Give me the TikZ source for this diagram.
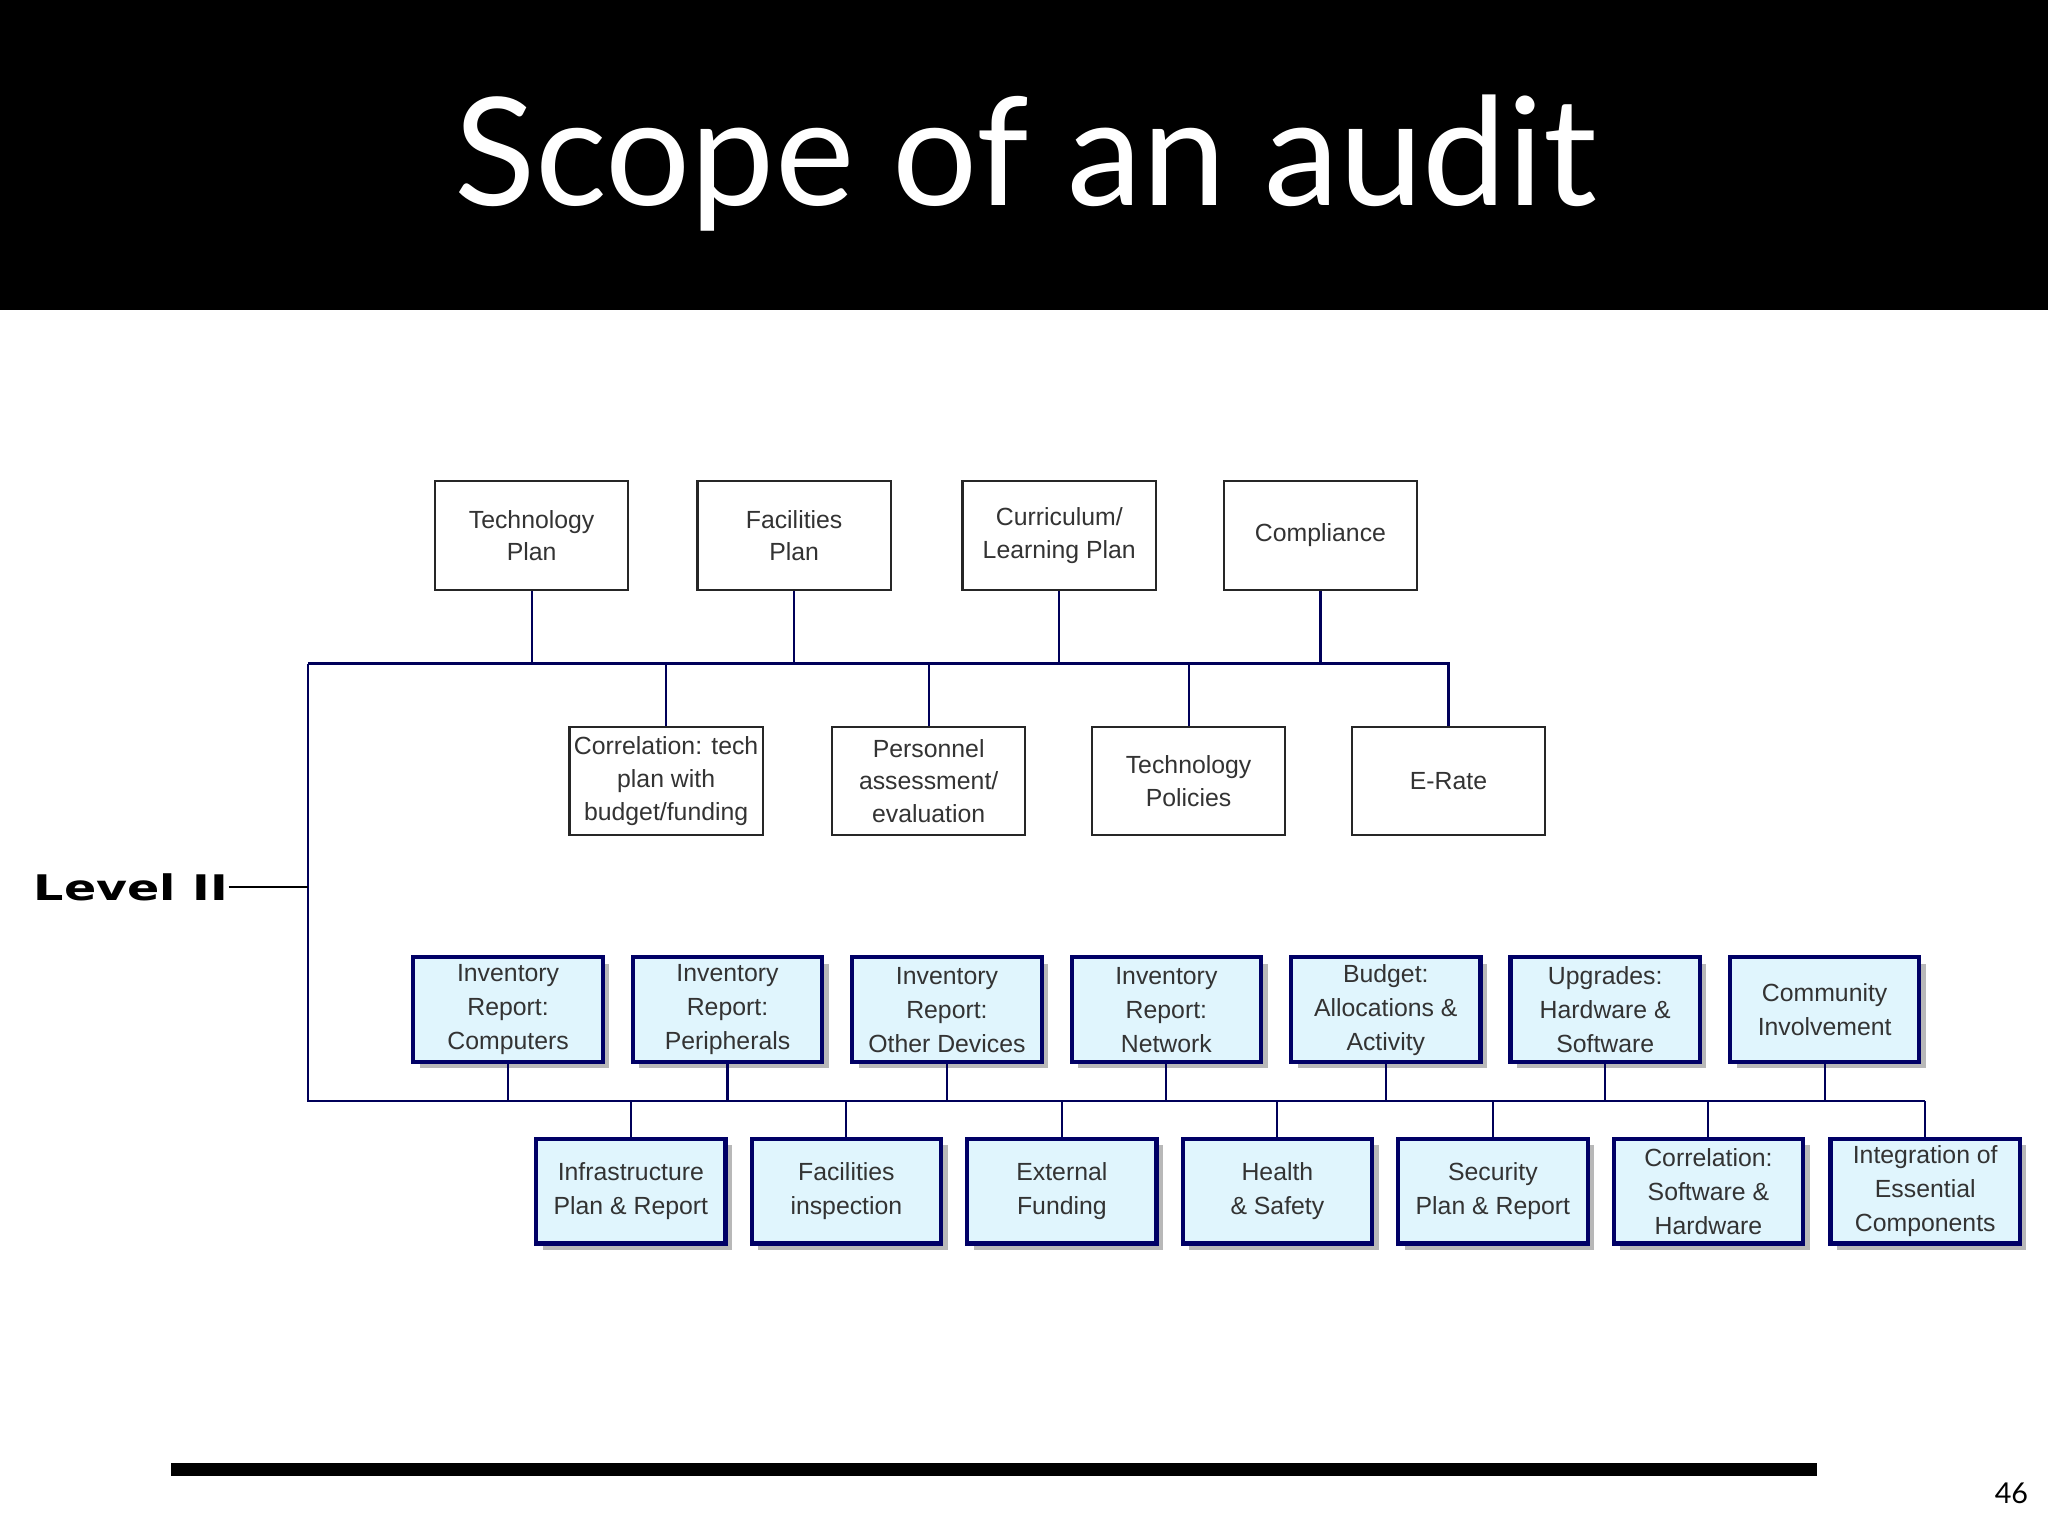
\documentclass[tikz,border=0pt]{standalone}
\usepackage{fontspec}
\setmainfont{Liberation Sans}
\newfontfamily\titlefont{Lato}
\newfontfamily\levfont{DejaVu Sans}
\begin{document}
\begin{tikzpicture}[x=1pt,y=-1pt,
  plain/.style={draw=black!85,line width=1.8pt,fill=white,minimum width=148pt,minimum height=83pt,align=center,font=\fontsize{19}{25}\selectfont,text=black!80},
  blue/.style={draw=blue!40!black,line width=3.2pt,fill=cyan!12,minimum width=145pt,minimum height=80pt,align=center,font=\fontsize{19}{26}\selectfont,text=black!80,
     drop shadow={shadow xshift=5pt,shadow yshift=-5pt,fill=black!35,opacity=.8}},
  conn/.style={draw=blue!35!black,line width=1.6pt}]
\usetikzlibrary{shadows}
\useasboundingbox (0,0) rectangle (1568,1176);
\fill[black] (0,0) rectangle (1568,237);
\node[text=white,font=\titlefont\fontsize{115}{125}\selectfont] (title) at (785,125) {Scope of an audit};
% top row
\node[plain] (t1) at (407,410) {Technology\\Plan};
\node[plain] (t2) at (608,410) {Facilities\\Plan};
\node[plain] (t3) at (811,410) {Curriculum/\\Learning Plan};
\node[plain] (t4) at (1011,410) {Compliance};
\node[plain] (s1) at (510,598) {Correlation: tech\\plan with\\budget/funding};
\node[plain] (s2) at (711,598) {Personnel\\assessment/\\evaluation};
\node[plain] (s3) at (910,598) {Technology\\Policies};
\node[plain] (s4) at (1109,598) {E-Rate};
\coordinate (busL) at (236,508);
\coordinate (busR) at (1110,508);
\coordinate (bus2L) at (236,843);
\coordinate (bus2R) at (1474,843);
\draw[conn] (busL) -- (busR);
\draw[conn] (busL) -- (bus2L) -- (bus2R);
\foreach \n in {t1,t2,t3,t4} \draw[conn] (\n.south) -- (\n.south |- busL);
\foreach \n in {s1,s2,s3,s4} \draw[conn] (\n.north) -- (\n.north |- busL);
\node[font=\levfont\bfseries\fontsize{27}{30}\selectfont,anchor=east,inner sep=0pt,xscale=1.35] (lev) at (175,679) {Level II};
\coordinate (levend) at (175,679);
\draw[line width=1.4pt] (levend) -- (levend -| busL);
% blue rows
\node[blue] (b1) at (389,773) {Inventory\\Report:\\Computers};
\node[blue] (b2) at (557,773) {Inventory\\Report:\\Peripherals};
\node[blue] (b3) at (725,773) {Inventory\\Report:\\Other Devices};
\node[blue] (b4) at (893,773) {Inventory\\Report:\\Network};
\node[blue] (b5) at (1061,773) {Budget:\\Allocations \&\\Activity};
\node[blue] (b6) at (1229,773) {Upgrades:\\Hardware \&\\Software};
\node[blue] (b7) at (1397,773) {Community\\Involvement};
\node[blue] (c1) at (483,912) {Infrastructure\\Plan \& Report};
\node[blue] (c2) at (648,912) {Facilities\\inspection};
\node[blue] (c3) at (813,912) {External\\Funding};
\node[blue] (c4) at (978,912) {Health\\\& Safety};
\node[blue] (c5) at (1143,912) {Security\\Plan \& Report};
\node[blue] (c6) at (1308,912) {Correlation:\\Software \&\\Hardware};
\node[blue] (c7) at (1474,912) {Integration of\\Essential\\Components};
\foreach \n in {b1,b2,b3,b4,b5,b6,b7} \draw[conn] (\n.south) -- (\n.south |- bus2L);
\foreach \n in {c1,c2,c3,c4,c5,c6,c7} \draw[conn] (\n.north) -- (\n.north |- bus2L);
\fill[black] (131,1120) rectangle (1391,1130);
\node[font=\titlefont\fontsize{22}{24}\selectfont] (pg) at (1540,1143) {46};
\end{tikzpicture}
\end{document}
